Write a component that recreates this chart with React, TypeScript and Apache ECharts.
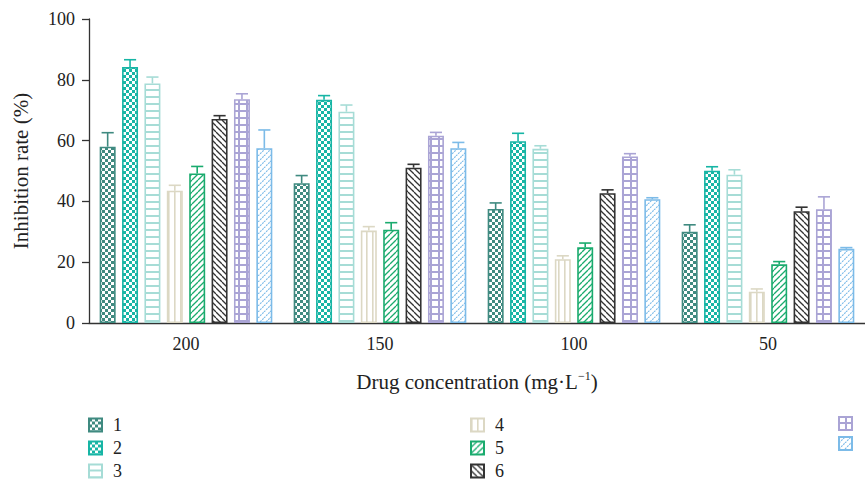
import React, { useEffect, useRef } from 'react';
import * as echarts from 'echarts';

const categories = ['200', '150', '100', '50'];
const seriesNames = ['1', '2', '3', '4', '5', '6', '7', '8'];

const v1 = [58.0, 46.0, 37.5, 30.0];
const v2 = [84.2, 73.4, 59.8, 50.1];
const v3 = [78.8, 69.5, 57.3, 48.8];
const v4 = [43.5, 30.4, 21.0, 10.3];
const v5 = [49.2, 30.7, 24.9, 19.3];
const v6 = [67.1, 51.1, 42.7, 36.8];
const v7 = [73.6, 61.6, 54.8, 37.4];
const v8 = [57.5, 57.5, 40.7, 24.4];

const e1 = [4.6, 2.5, 2.0, 2.3];
const e2 = [2.4, 1.4, 2.6, 1.3];
const e3 = [2.1, 2.2, 1.0, 1.6];
const e4 = [1.8, 1.3, 1.1, 0.9];
const e5 = [2.3, 2.3, 1.4, 0.9];
const e6 = [1.1, 1.1, 1.1, 1.3];
const e7 = [1.8, 1.1, 0.9, 4.1];
const e8 = [6.0, 1.9, 0.5, 0.4];

const yTicks = [0, 20, 40, 60, 80, 100];

const values = [v1, v2, v3, v4, v5, v6, v7, v8];
const errors = [e1, e2, e3, e4, e5, e6, e7, e8];
const colors = ['#3f8a80', '#17b5a5', '#a6dcd6', '#dcd8c4', '#1aab6e', '#333333', '#aaa4d5', '#7cbbe8'];
const kinds = ['checker', 'checker', 'hlines', 'vlines', 'diagUp', 'diagDown', 'grid', 'dotted'];

const FONT = '"Liberation Serif", "DejaVu Serif", serif';
const CAT_GAP = 0.11;
const BAR_GAP = 0.4;

function makePattern(kind: string, color: string) {
  const c = document.createElement('canvas');
  let w = 6, h = 6;
  if (kind === 'hlines') { w = 8; h = 7; }
  if (kind === 'vlines') { w = 6; h = 6; }
  if (kind === 'grid') { w = 8; h = 7; }
  if (kind === 'diagUp' || kind === 'diagDown') { w = 6; h = 6; }
  if (kind === 'dotted') { w = 6; h = 6; }
  c.width = w; c.height = h;
  const ctx = c.getContext('2d')!;
  ctx.fillStyle = '#ffffff';
  ctx.fillRect(0, 0, w, h);
  ctx.fillStyle = color;
  ctx.strokeStyle = color;
  if (kind === 'checker') {
    ctx.fillRect(0, 0, 3, 3);
    ctx.fillRect(3, 3, 3, 3);
  } else if (kind === 'hlines') {
    ctx.fillRect(0, 5, w, 2);
  } else if (kind === 'vlines') {
    ctx.fillRect(0, 0, 1.6, h);
  } else if (kind === 'grid') {
    ctx.fillRect(0, 5, w, 2);
    ctx.fillRect(6, 0, 2, h);
  } else if (kind === 'diagUp' || kind === 'diagDown' || kind === 'dotted') {
    ctx.lineWidth = kind === 'dotted' ? 1.1 : 1.3;
    if (kind === 'dotted') {
      ctx.setLineDash([2, 1]);
    }
    for (const o of [-w, 0, w]) {
      ctx.beginPath();
      if (kind === 'diagDown') {
        ctx.moveTo(o, 0);
        ctx.lineTo(o + w, h);
      } else {
        ctx.moveTo(o, h);
        ctx.lineTo(o + w, 0);
      }
      ctx.stroke();
    }
  }
  return { image: c, repeat: 'repeat', imageWidth: w, imageHeight: h };
}

export default function App() {
  const ref = useRef<HTMLDivElement>(null);

  useEffect(() => {
    const chart = echarts.init(ref.current!, null, { renderer: 'svg' });

    const barSeries = seriesNames.map((name, i) => ({
      type: 'bar',
      name,
      data: values[i],
      barGap: `${BAR_GAP * 100}%`,
      barCategoryGap: `${CAT_GAP * 100}%`,
      itemStyle: {
        color: makePattern(kinds[i], colors[i]),
        borderColor: colors[i],
        borderWidth: 1.6,
      },
      z: 2,
    }));

    const errSeries = seriesNames.map((name, i) => ({
      type: 'custom',
      name: 'err' + name,
      silent: true,
      z: 3,
      encode: { x: 0, y: [1, 2] },
      data: values[i].map((v, k) => [k, v, v + errors[i][k]]),
      renderItem: (params: any, api: any) => {
        const k = api.value(0);
        const base = api.coord([k, api.value(1)]);
        const top = api.coord([k, api.value(2)]);
        const catW = api.size([1, 0])[0];
        const barW = (catW * (1 - CAT_GAP)) / (8 + 7 * BAR_GAP);
        const x = base[0] + (i - 3.5) * barW * (1 + BAR_GAP);
        const cap = barW * 0.38;
        const style = { stroke: colors[i], lineWidth: 1.6 };
        return {
          type: 'group',
          children: [
            { type: 'line', shape: { x1: x, y1: base[1], x2: x, y2: top[1] }, style },
            { type: 'line', shape: { x1: x - cap, y1: top[1], x2: x + cap, y2: top[1] }, style },
          ],
        };
      },
    }));

    const legendBase = {
      orient: 'vertical',
      icon: 'rect',
      itemWidth: 13,
      itemHeight: 13,
      itemGap: 5,
      padding: 0,
      height: 80,
      selectedMode: false,
      textStyle: { fontFamily: FONT, fontSize: 18, color: '#222', padding: [0, 0, 0, 6] },
      formatter: (n: string) => (n === '7' || n === '8' ? '' : n),
    };

    chart.setOption({
      animation: false,
      backgroundColor: '#ffffff',
      grid: { left: 89, top: 19, width: 779, height: 304 },
      legend: [
        { ...legendBase, data: ['1', '2', '3'], left: 88, top: 416 },
        { ...legendBase, data: ['4', '5', '6'], left: 470, top: 416 },
        { ...legendBase, data: ['7', '8'], left: 838, top: 416 },
      ],
      xAxis: {
        type: 'category',
        data: categories,
        name: 'Drug concentration (mg·L{sup|−1})',
        nameLocation: 'middle',
        nameGap: 47,
        nameTextStyle: {
          fontFamily: FONT,
          fontSize: 21,
          color: '#222',
          rich: {
            sup: { fontFamily: FONT, fontSize: 12, color: '#222', verticalAlign: 'top', padding: [0, 0, 11, 0] },
          },
        },
        axisLine: { lineStyle: { color: '#333', width: 1.3 } },
        axisTick: { alignWithLabel: true, length: 6, lineStyle: { color: '#333', width: 1.3 } },
        axisLabel: { fontFamily: FONT, fontSize: 18, color: '#222', margin: 12 },
      },
      yAxis: {
        type: 'value',
        min: yTicks[0],
        max: yTicks[yTicks.length - 1],
        interval: 20,
        name: 'Inhibition rate (%)',
        nameLocation: 'middle',
        nameGap: 58,
        nameTextStyle: { fontFamily: FONT, fontSize: 21, color: '#222' },
        axisLine: { show: true, lineStyle: { color: '#333', width: 1.3 } },
        axisTick: { show: true, length: 7, lineStyle: { color: '#333', width: 1.3 } },
        axisLabel: { fontFamily: FONT, fontSize: 18, color: '#222', margin: 14 },
        splitLine: { show: false },
      },
      series: [...barSeries, ...errSeries],
    });

    return () => chart.dispose();
  }, []);

  return (
    <div
      ref={ref}
      style={{ position: 'absolute', left: 0, top: 0, width: 865, height: 487, background: '#fff' }}
    />
  );
}
